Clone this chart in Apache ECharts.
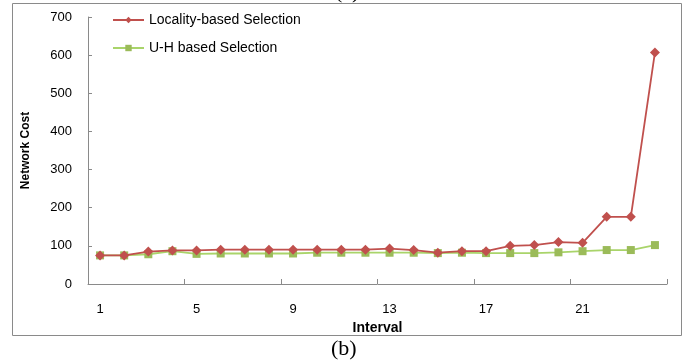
<!DOCTYPE html>
<html>
<head>
<meta charset="utf-8">
<script src="https://cdn.jsdelivr.net/npm/echarts@6/dist/echarts.min.js"></script>
<style>
    html, body { margin: 0; padding: 0; background: #fff; }
    #chart { width: 688px; height: 362px; }
</style>
</head>
<body>
<div id="chart"></div>
<script>
// x categories: intervals 1..24
var intervals = ['1','2','3','4','5','6','7','8','9','10','11','12','13','14','15','16','17','18','19','20','21','22','23','24'];
var localityCost = [75, 75, 85, 88, 88, 90, 90, 90, 90, 90, 90, 90, 93, 89, 82, 86, 86, 100, 102, 110, 108, 176, 176, 607];
var uhCost = [75, 75, 78, 86, 79, 80, 80, 80, 80, 82, 82, 82, 82, 82, 81, 82, 81, 81, 81, 83, 86, 89, 89, 102];
var yTicks = [0, 100, 200, 300, 400, 500, 600, 700];

var chart = echarts.init(document.getElementById('chart'));

var font = 'Liberation Sans';
var option = {
    animation: false,
    textStyle: { fontFamily: font },
    graphic: [
        {
            type: 'rect',
            shape: { x: 12.5, y: 3.5, width: 669, height: 332 },
            style: { fill: 'none', stroke: '#8a8a8a', lineWidth: 1 }
        },
        {
            // caption of the figure above, cut off at the top
            type: 'text',
            left: 335, top: -19,
            style: { text: '(a)', font: '22px "Liberation Serif"', fill: '#000' }
        },
        {
            type: 'text',
            left: 331, top: 338,
            style: { text: '(b)', font: '22px "Liberation Serif"', fill: '#000' }
        }
    ],
    legend: {
        orient: 'vertical',
        left: 107,
        top: 8,
        itemGap: 14,
        itemWidth: 31,
        itemHeight: 8,
        textStyle: { fontSize: 14, color: '#000', fontFamily: font },
        data: ['Locality-based Selection', 'U-H based Selection']
    },
    grid: {
        left: 88,
        right: 21,
        top: 17,
        bottom: 78
    },
    xAxis: {
        type: 'category',
        data: intervals,
        name: 'Interval',
        nameLocation: 'middle',
        nameGap: 37,
        nameTextStyle: { fontSize: 14, fontWeight: 'bold', color: '#000' },
        axisLine: { lineStyle: { color: '#8a8a8a', width: 1 } },
        axisTick: { show: true, inside: true, length: 5, interval: 3, lineStyle: { color: '#8a8a8a' } },
        axisLabel: { interval: 3, margin: 19, fontSize: 13, color: '#000' },
        splitLine: { show: false }
    },
    yAxis: {
        type: 'value',
        min: 0,
        max: 700,
        interval: 100,
        name: 'Network Cost',
        nameLocation: 'middle',
        nameRotate: 90,
        nameGap: 56,
        nameTextStyle: { fontSize: 12, fontWeight: 'bold', color: '#000' },
        axisLine: { show: true, lineStyle: { color: '#8a8a8a', width: 1 } },
        axisTick: { show: true, inside: true, length: 4, lineStyle: { color: '#8a8a8a' } },
        axisLabel: {
            margin: 16,
            fontSize: 13,
            color: '#000',
            formatter: function (v) { return yTicks.indexOf(v) >= 0 ? String(v) : ''; }
        },
        splitLine: { show: false }
    },
    series: [
        {
            name: 'Locality-based Selection',
            type: 'line',
            data: localityCost,
            symbol: 'diamond',
            symbolSize: 10,
            z: 3,
            itemStyle: { color: '#C0504D' },
            lineStyle: { color: '#C0504D', width: 1.8 }
        },
        {
            name: 'U-H based Selection',
            type: 'line',
            data: uhCost,
            symbol: 'rect',
            symbolSize: 8,
            z: 2,
            itemStyle: { color: '#9BBB59' },
            lineStyle: { color: '#A9D46A', width: 1.8 }
        }
    ]
};
chart.setOption(option);
</script>
</body>
</html>
